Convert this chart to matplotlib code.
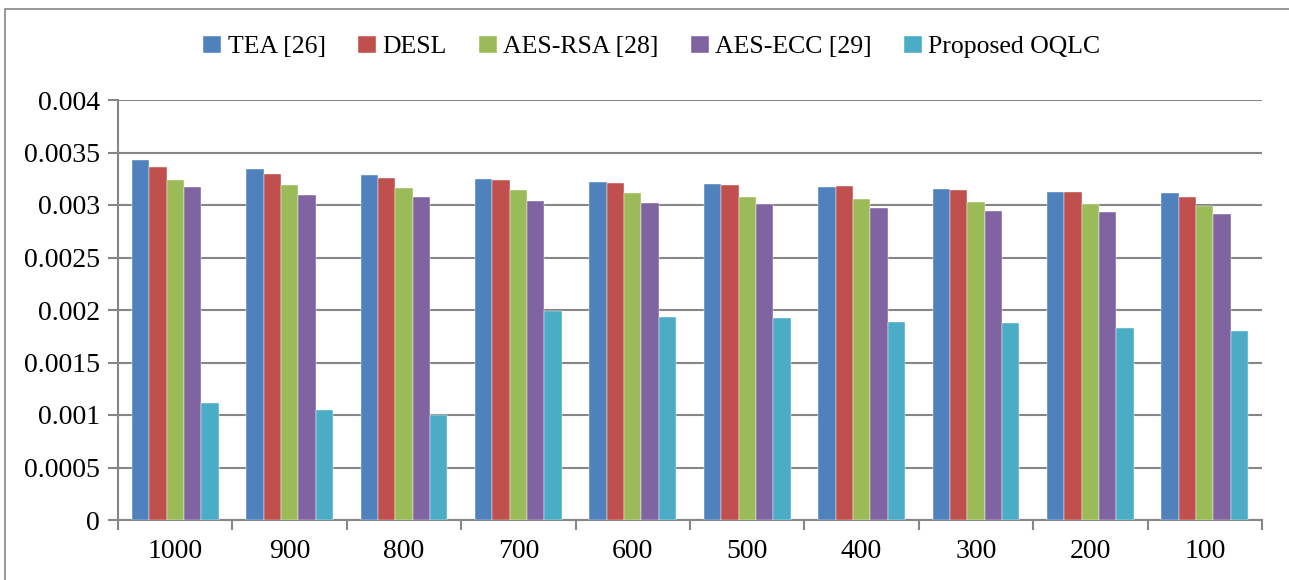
import matplotlib
matplotlib.use("Agg")
import matplotlib.pyplot as plt
from matplotlib.patches import Rectangle
import numpy as np

plt.rcParams['font.family'] = ['Liberation Serif', 'DejaVu Serif']

# Datos
categorias = ['1000', '900', '800', '700', '600', '500', '400', '300', '200', '100']
series = ['TEA [26]', 'DESL', 'AES-RSA [28]', 'AES-ECC [29]', 'Proposed OQLC']
tea = [0.00343, 0.00334, 0.00329, 0.00325, 0.00322, 0.00320, 0.00317, 0.00315, 0.00312, 0.00311]
desl = [0.00336, 0.00330, 0.00326, 0.00324, 0.00321, 0.00319, 0.00318, 0.00314, 0.00312, 0.00308]
aes_rsa = [0.00324, 0.00319, 0.00316, 0.00314, 0.00311, 0.00308, 0.00306, 0.00303, 0.00301, 0.00299]
aes_ecc = [0.00317, 0.00310, 0.00308, 0.00304, 0.00302, 0.00301, 0.00297, 0.00294, 0.00293, 0.00291]
oqlc = [0.00111, 0.00105, 0.00100, 0.00199, 0.00193, 0.00192, 0.00189, 0.00188, 0.00183, 0.00180]
cores = ['#4F81BD', '#C0504D', '#9BBB59', '#8064A2', '#4BACC6']

fig = plt.figure(figsize=(12.89, 5.8), dpi=100)
ax = fig.add_axes([118 / 1289, 60 / 580, 1144 / 1289, 420 / 580])

x = np.arange(len(categorias))
largura = 0.152
valores = [tea, desl, aes_rsa, aes_ecc, oqlc]
for i, (nome, vals, cor) in enumerate(zip(series, valores, cores)):
    ax.bar(x + (i - 2) * largura, vals, largura, color=cor, label=nome,
           edgecolor='white', linewidth=0.3, zorder=3)

ax.set_xlim(-0.5, len(categorias) - 0.5)
ax.set_ylim(0, 0.004)
yt = np.arange(0, 0.00401, 0.0005)
ax.set_yticks(yt)
ax.set_yticklabels(['0' if v == 0 else f'{v:g}' for v in yt])
ax.set_xticks(x)
ax.set_xticklabels(categorias)
ax.set_xticks(np.arange(-0.5, len(categorias)), minor=True)
ax.tick_params(axis='x', which='major', length=0, pad=14, labelsize=20)
ax.tick_params(axis='x', which='minor', length=7, width=1.5, color='#868686')
ax.tick_params(axis='y', length=7, width=1.5, color='#868686', labelsize=20, pad=6)

ax.grid(axis='y', color='#868686', linewidth=1.5, zorder=0)
for lado in ['top', 'right']:
    ax.spines[lado].set_visible(False)
for lado in ['left', 'bottom']:
    ax.spines[lado].set_color('#868686')
    ax.spines[lado].set_linewidth(1.5)

fig.legend(loc='center', bbox_to_anchor=(652 / 1289, 1 - 47 / 580), ncol=5,
           frameon=False, fontsize=18.5, handlelength=0.7, handleheight=0.7,
           handletextpad=0.25, columnspacing=1.25)

# borda externa do gráfico
fig.patches.append(Rectangle((5 / 1289, -0.1), 1.2, 1.1 - 9 / 580,
                             transform=fig.transFigure, fill=False,
                             edgecolor='#868686', linewidth=1.2))

fig.savefig('out.png', dpi=100)
